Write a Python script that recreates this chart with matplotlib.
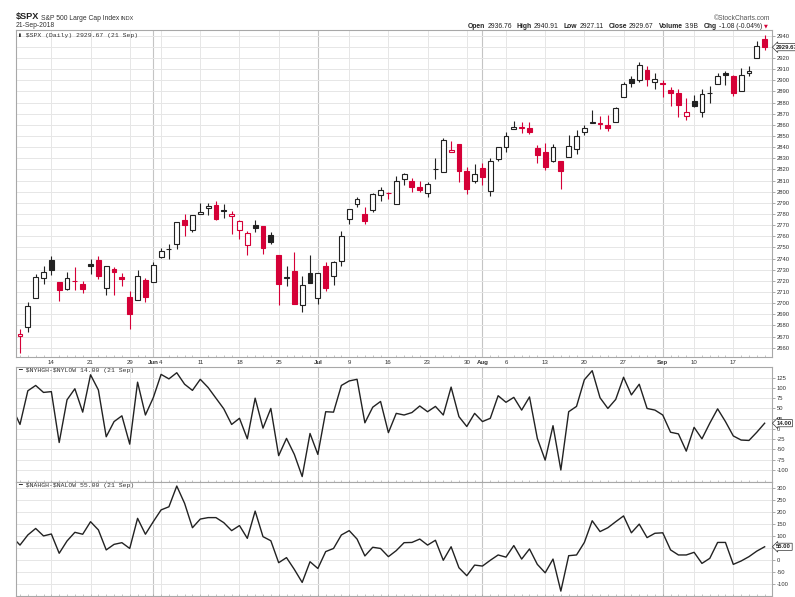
""" StockCharts style $SPX daily candles with NYSE and Nasdaq new highs - new lows """

import matplotlib.pyplot as plt
import numpy as np
import pandas as pd

plt.rcParams['font.family'] = ['Liberation Sans', 'DejaVu Sans']

# trading days shown (May 8 - Sep 21 2018)
holidays = ["2018-05-28", "2018-07-04", "2018-09-03"]
dates = pd.bdate_range("2018-05-08", "2018-09-21")
dates = dates[~dates.isin(pd.to_datetime(holidays))]

prevClose = 2672.63  # May 7 close, used for candle colour of first bar

opens = [2670.26, 2678.12, 2705.02, 2722.70, 2738.47, 2718.59, 2712.62, 2719.71,
         2717.35, 2735.39, 2738.34, 2713.98, 2730.94, 2723.60, 2705.11, 2702.43,
         2720.98, 2718.70, 2741.67, 2748.46, 2753.25, 2774.84, 2765.84, 2780.18,
         2785.60, 2787.94, 2783.21, 2777.78, 2765.79, 2752.01, 2769.73, 2769.28,
         2760.79, 2742.94, 2722.12, 2728.45, 2698.69, 2727.13, 2704.95, 2733.27,
         2724.19, 2737.68, 2775.62, 2788.56, 2779.82, 2783.14, 2796.93, 2798.43,
         2789.34, 2811.35, 2809.37, 2804.55, 2799.17, 2820.68, 2817.73, 2835.49,
         2842.35, 2819.00, 2809.73, 2821.17, 2800.48, 2829.62, 2840.29, 2855.92,
         2856.79, 2857.19, 2838.90, 2835.46, 2827.88, 2827.95, 2831.44, 2838.32,
         2853.93, 2861.51, 2860.99, 2860.29, 2862.35, 2884.69, 2901.45, 2900.62,
         2908.94, 2898.37, 2896.96, 2891.59, 2888.64, 2868.26, 2881.39, 2871.57,
         2888.29, 2896.85, 2906.38, 2903.83, 2890.74, 2906.60, 2919.73, 2936.76]
highs = [2676.34, 2701.27, 2726.11, 2732.86, 2742.10, 2718.59, 2727.76, 2731.96,
         2719.50, 2739.19, 2742.24, 2733.33, 2731.97, 2727.36, 2710.67, 2729.34,
         2722.50, 2736.93, 2749.16, 2752.61, 2772.39, 2779.90, 2779.39, 2790.21,
         2789.80, 2791.47, 2789.06, 2782.81, 2774.99, 2765.05, 2774.86, 2769.28,
         2764.17, 2742.94, 2732.91, 2746.09, 2724.34, 2743.26, 2727.26, 2736.58,
         2737.83, 2764.41, 2784.65, 2795.58, 2785.91, 2799.22, 2804.53, 2799.57,
         2814.19, 2816.76, 2812.05, 2809.70, 2808.61, 2829.99, 2848.03, 2845.57,
         2843.17, 2821.74, 2824.46, 2825.83, 2829.91, 2840.38, 2853.29, 2863.43,
         2862.44, 2862.48, 2842.20, 2843.40, 2843.11, 2827.95, 2850.49, 2855.63,
         2859.76, 2873.23, 2867.54, 2868.78, 2876.16, 2898.25, 2903.77, 2916.50,
         2912.46, 2906.32, 2900.18, 2894.21, 2892.05, 2883.81, 2886.93, 2892.52,
         2894.65, 2906.76, 2908.30, 2904.65, 2911.17, 2912.36, 2934.80, 2940.91]
lows = [2655.20, 2674.14, 2704.54, 2717.45, 2725.47, 2701.91, 2712.17, 2711.36,
        2709.18, 2725.70, 2721.88, 2707.38, 2707.38, 2714.99, 2676.81, 2702.43,
        2700.68, 2718.70, 2740.54, 2739.51, 2748.46, 2760.16, 2763.59, 2780.17,
        2778.78, 2774.65, 2776.52, 2761.73, 2757.12, 2743.19, 2763.91, 2744.39,
        2752.68, 2698.67, 2715.60, 2699.38, 2691.99, 2718.03, 2698.95, 2711.16,
        2716.02, 2733.52, 2770.73, 2786.24, 2770.77, 2781.53, 2791.69, 2793.19,
        2789.24, 2805.89, 2799.77, 2800.01, 2795.14, 2811.12, 2817.73, 2835.26,
        2808.34, 2798.11, 2808.06, 2805.85, 2796.34, 2827.37, 2835.98, 2855.92,
        2853.09, 2851.98, 2825.81, 2819.88, 2826.58, 2802.49, 2831.44, 2833.73,
        2850.62, 2861.32, 2856.05, 2854.03, 2862.35, 2884.69, 2893.50, 2898.40,
        2895.22, 2891.73, 2885.13, 2876.92, 2867.29, 2864.12, 2875.94, 2866.78,
        2879.20, 2896.39, 2895.77, 2886.16, 2890.43, 2903.82, 2919.73, 2927.11]
closes = [2671.92, 2697.79, 2723.07, 2727.72, 2730.13, 2711.45, 2722.46, 2720.13,
          2712.97, 2733.01, 2724.44, 2733.29, 2727.76, 2721.33, 2689.86, 2724.01,
          2705.27, 2734.62, 2746.87, 2748.80, 2772.35, 2770.37, 2779.03, 2782.00,
          2786.85, 2775.63, 2782.49, 2779.66, 2773.75, 2762.59, 2767.32, 2749.76,
          2754.88, 2717.07, 2723.06, 2699.63, 2716.31, 2718.37, 2726.71, 2713.22,
          2736.61, 2759.82, 2784.17, 2793.84, 2774.02, 2798.29, 2801.31, 2798.43,
          2809.55, 2815.62, 2804.49, 2801.83, 2806.98, 2820.40, 2846.07, 2837.44,
          2818.82, 2802.60, 2816.29, 2813.36, 2827.22, 2840.35, 2850.40, 2858.45,
          2857.70, 2853.58, 2833.28, 2821.93, 2839.96, 2818.37, 2840.69, 2850.13,
          2857.05, 2862.96, 2861.82, 2856.98, 2874.69, 2896.74, 2897.52, 2914.04,
          2901.13, 2901.52, 2896.72, 2888.60, 2878.05, 2871.68, 2877.13, 2887.89,
          2888.92, 2904.18, 2904.98, 2888.80, 2904.31, 2907.95, 2930.75, 2929.67]

# $NYHGH-$NYLOW
nyPrev = 52
nyHL = [11, 93, 106, 89, 91, -33, 71, 98, 41, 132, 95, -19, 18, 32, -37, 114,
        34, 76, 133, 122, 137, 109, 94, 121, 101, 75, 49, 11, 26, -24, 75, 2,
        50, -65, -23, -62, -116, -11, -62, 42, 41, 106, 117, 121, 15, 53,
        67, -9, 38, 34, 40, 56, 42, 55, 34, 102, 30, 6, 38, 18, 26, 81,
        65, 77, 46, 78, -23, -76, 8, -100, 42, 55, 120, 142, 76, 50, 72, 126,
        83, 109, 50, 46, 34, -8, -12, -54, 4, -24, 14, 49, 18, -17, -27, -28,
        -8, 14]
# $NAHGH-$NALOW
naPrev = 96
naHL = [62, 104, 131, 100, 108, 28, 79, 115, 107, 159, 125, 42, 65, 72, 48, 173,
        107, 159, 208, 221, 307, 235, 134, 170, 176, 176, 155, 122, 143, 90, 203, 97,
        80, -11, 10, -39, -93, -7, -35, 35, 48, 104, 122, 87, 17, 53, 48, 14,
        39, 72, 73, 87, 62, 82, -1, 55, -32, -65, -21, -25, -1, 21, 12, 60,
        4, 46, -18, -53, 4, -129, 18, 21, 73, 163, 118, 134, 159, 183, 113, 149,
        93, 111, 113, 42, 21, 21, 32, -14, 7, 73, 73, -18, -4, 14, 37, 55]

priceTicks = list(range(2660, 2941, 10))
nyTicks = list(range(-100, 126, 25))
naTicks = list(range(-100, 301, 50))

red = "#d50037"
dark = "#222222"
gridCol = "#e6e6e6"
monthCol = "#c4c4c4"
textCol = "#333333"

W, H = 795, 597
fig = plt.figure(figsize=(W / 100, H / 100), dpi=100)

def box(top, bottom, left=16, right=771.7):
    return [left / W, 1 - bottom / H, (right - left) / W, (bottom - top) / H]

ax1 = fig.add_axes(box(30, 356.7))
ax2 = fig.add_axes(box(366.7, 481.7))
ax3 = fig.add_axes(box(481.7, 595.7))

n = len(closes)
xs = np.arange(n)

# week / month labels
weekPos, weekLab, monthPos, monthLab = [], [], [], []
for i in range(1, n):
    d, p = dates[i], dates[i - 1]
    newMonth = d.month != p.month
    newWeek = d.isocalendar()[1] != p.isocalendar()[1]
    if newMonth:
        monthPos.append(i)
        monthLab.append(d.strftime("%b"))
    elif newWeek:
        weekPos.append(i)
        weekLab.append(str(d.day))

for ax in (ax1, ax2, ax3):
    ax.set_xlim(-0.51, 95.9)
    for s in ax.spines.values():
        s.set_color("#a8a8a8")
        s.set_linewidth(0.8)
    ax.yaxis.tick_right()
    ax.tick_params(axis='y', length=2, width=0.5, pad=1.5, labelsize=4.2,
                   labelcolor=textCol, color="#888888")
    ax.grid(axis='y', color=gridCol, linewidth=0.7)
    for xp in weekPos:
        ax.axvline(xp, color=gridCol, linewidth=0.7, zorder=0.5)
    for xp in monthPos:
        ax.axvline(xp, color=monthCol, linewidth=0.8, zorder=0.5)
    ax.set_axisbelow(True)
    ax.set_xticks(xs, minor=True)
    ax.tick_params(axis='x', which='minor', length=1.5, width=0.4,
                   direction='in', color="#999999")

# candles
prev = [prevClose] + closes[:-1]
faces, edges = [], []
for o, c, pc in zip(opens, closes, prev):
    col = dark if c >= pc else red
    edges.append(col)
    faces.append("white" if c >= o else col)
bottoms = [min(o, c) for o, c in zip(opens, closes)]
heights = [max(abs(c - o), 0.4) for o, c in zip(opens, closes)]
ax1.vlines(xs, lows, highs, colors=edges, linewidth=0.8, zorder=2)
ax1.bar(xs, heights, bottom=bottoms, width=0.62, color=faces,
        edgecolor=edges, linewidth=0.8, zorder=3)
ax1.set_ylim(2651.9, 2945.1)

ticksAll = weekPos + monthPos
labsAll = weekLab + monthLab
ax1.set_xticks(ticksAll, labsAll)
ax1.tick_params(axis='x', which='major', length=0, pad=2.2, labelsize=4.4,
                labelcolor=textCol)
for t in ax1.get_xticklabels():
    if t.get_text() in monthLab:
        t.set_fontweight('bold')

ax2.plot(np.r_[-1, xs], [nyPrev] + nyHL, color=dark, linewidth=1.0)
ax2.set_ylim(-128.5, 151.7)

ax3.plot(np.r_[-1, xs], [naPrev] + naHL, color=dark, linewidth=1.0)
ax3.set_ylim(-148, 325)

for ax in (ax2, ax3):
    ax.set_xticks([])
    ax.set_xticks(xs, minor=True)

# right axis ticks; the label under the last-value box is hidden, as on the site
for ax, ticks, last, step in ((ax1, priceTicks, closes[-1], 10),
                              (ax2, nyTicks, nyHL[-1], 25),
                              (ax3, naTicks, naHL[-1], 50)):
    labs = ["" if abs(t - last) < 0.4 * step else str(t) for t in ticks]
    ax.set_yticks(ticks, labs)
    ax.text(1.006, last, "%.2f" % last, transform=ax.get_yaxis_transform(), ha='left',
            va='center', fontsize=4.3, fontweight='bold', color=dark,
            clip_on=False, zorder=5,
            bbox=dict(boxstyle='larrow,pad=0.18', fc='white', ec='#333333', lw=0.5))

# panel labels
mono = ['Liberation Mono', 'DejaVu Sans Mono', 'DejaVu Sans']
ax1.text(0.003, 0.992, "\u25AE $SPX (Daily) 2929.67 (21 Sep)", transform=ax1.transAxes,
         ha='left', va='top', fontsize=4.6, family=mono, color=textCol, parse_math=False)
ax2.text(0.003, 0.985, "\u2501 $NYHGH-$NYLOW 14.00 (21 Sep)", transform=ax2.transAxes,
         ha='left', va='top', fontsize=4.6, family=mono, color=textCol, parse_math=False)
ax3.text(0.003, 0.985, "\u2501 $NAHGH-$NALOW 55.00 (21 Sep)", transform=ax3.transAxes,
         ha='left', va='top', fontsize=4.6, family=mono, color=textCol, parse_math=False)

# header
def fy(py):
    return 1 - py / H

fig.text(16 / W, fy(19.5), "$SPX", fontsize=6.6, fontweight='bold', color=dark,
         ha='left', va='baseline', parse_math=False)
fig.text(41 / W, fy(19.5), "S&P 500 Large Cap Index", fontsize=4.9, color=textCol,
         ha='left', va='baseline')
fig.text(120.5 / W, fy(19.5), "INDX", fontsize=4.0, color=textCol,
         ha='left', va='baseline')
fig.text(16 / W, fy(27.3), "21-Sep-2018", fontsize=4.9, color=textCol,
         ha='left', va='baseline')
fig.text(770 / W, fy(19.5), "\u00A9StockCharts.com", fontsize=4.9, color="#555555",
         ha='right', va='baseline')

pieces = [("Open", 'bold'), ("2936.76", 'normal'), ("High", 'bold'), ("2940.91", 'normal'),
          ("Low", 'bold'), ("2927.11", 'normal'), ("Close", 'bold'), ("2929.67", 'normal'),
          ("Volume", 'bold'), ("3.9B", 'normal'), ("Chg", 'bold'), ("-1.08 (-0.04%)", 'normal')]
renderer = fig.canvas.get_renderer()
arts, widths = [], []
for k, (s, wgt) in enumerate(pieces):
    t = fig.text(0, fy(27.7), s, fontsize=4.9, fontweight=wgt, color=dark,
                 ha='left', va='baseline')
    arts.append(t)
    widths.append(t.get_window_extent(renderer).width)
gaps = [2.0 if wgt == 'bold' else 5.0 for _, wgt in pieces]
gaps[-1] = 2.0
total = sum(widths) + sum(gaps)
xpos = 764 - total
for t, wd, gp in zip(arts, widths, gaps):
    t.set_x(xpos / W)
    xpos += wd + gp
fig.text(xpos / W, fy(27.7), "\u25BC", fontsize=3.6, color=red, ha='left',
         va='baseline', family=['DejaVu Sans'])

fig.savefig("out.png", dpi=100)
